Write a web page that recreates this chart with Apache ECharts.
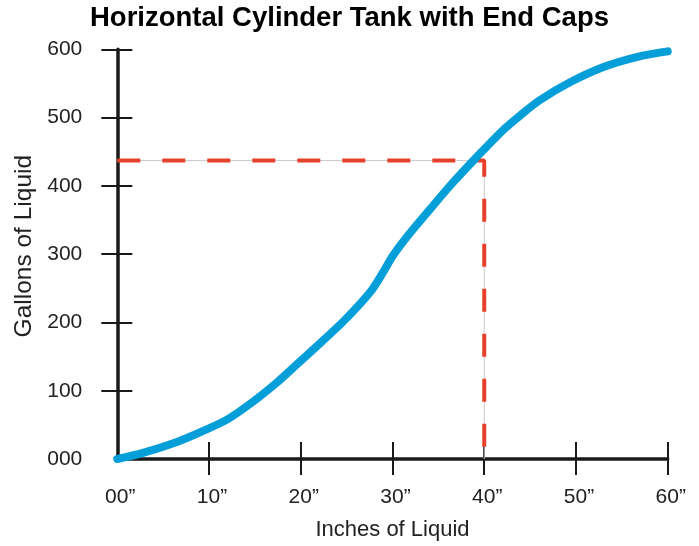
<!DOCTYPE html>
<html>
<head>
<meta charset="utf-8">
<script src="https://cdn.jsdelivr.net/npm/echarts@6/dist/echarts.min.js"></script>
<style>
html,body{margin:0;padding:0;background:#fff;}
#chart{width:699px;height:546px;}
</style>
</head>
<body>
<div id="chart"></div>
<script>
const titleText = 'Horizontal Cylinder Tank with End Caps';
const xName = 'Inches of Liquid';
const yName = 'Gallons of Liquid';

const xTicks = [0, 10, 20, 30, 40, 50, 60];
const yTicks = [0, 100, 200, 300, 400, 500, 600];

const inches  = [0, 2.8, 6.5, 9, 12, 14.8, 17.4, 19.2, 21, 24.6, 27.6, 29, 30, 31.6, 34.1, 36.6, 39.1, 42, 44, 46, 49.4, 53, 56.7, 60];
const gallons = [0, 9, 25, 39, 58, 84, 112, 134, 156, 201, 245, 274, 297, 326, 366, 405, 441, 481, 504, 525, 552, 574, 589, 597];

const guideInches  = [0, 40, 40];
const guideGallons = [437, 437, 0];

const curve = inches.map((x, i) => [x, gallons[i]]);
const guide = guideInches.map((x, i) => [x, guideGallons[i]]);

const labelFont = 'Liberation Sans, Arial, Helvetica, sans-serif';
const axisColor = '#1a1a1a';
const textColor = '#222';

const chart = echarts.init(document.getElementById('chart'), null, {renderer: 'canvas'});
chart.setOption({
  animation: false,
  backgroundColor: '#fff',
  title: {
    text: titleText,
    left: 'center',
    top: 4,
    padding: 0,
    textStyle: {fontFamily: labelFont, fontWeight: 'bold', fontSize: 27.5, color: '#000'}
  },
  grid: {left: 117.3, right: 31.3, top: 49.3, bottom: 83.7, containLabel: false},
  xAxis: [{
    type: 'value', min: 0, max: 60, position: 'bottom',
    name: xName, nameLocation: 'middle', nameGap: 60,
    nameTextStyle: {fontFamily: labelFont, fontSize: 22, color: textColor},
    axisLine: {show: true, onZero: false, lineStyle: {color: axisColor, width: 3.5}},
    axisTick: {show: true, inside: true, length: 17, customValues: xTicks.slice(1), lineStyle: {color: axisColor, width: 2}},
    axisLabel: {show: true, margin: 28, customValues: xTicks, fontFamily: labelFont, fontSize: 21, color: textColor,
      padding: [0, 0, 0, 6],
      formatter: v => String(v).padStart(2, '0') + '\u201d'},
    splitLine: {show: false}
  }, {
    type: 'value', min: 0, max: 60, position: 'bottom',
    axisLine: {show: false, onZero: false},
    axisTick: {show: true, inside: false, length: 16, customValues: xTicks.slice(1), lineStyle: {color: axisColor, width: 2}},
    axisLabel: {show: false},
    splitLine: {show: false}
  }],
  yAxis: [{
    type: 'value', min: 0, max: 600, position: 'left',
    name: yName, nameLocation: 'middle', nameGap: 81,
    nameTextStyle: {fontFamily: labelFont, fontSize: 24.5, color: textColor, padding: [0, 0, 0, 16]},
    axisLine: {show: true, onZero: false, lineStyle: {color: axisColor, width: 3.5}},
    axisTick: {show: true, inside: true, length: 15, customValues: yTicks.slice(1), lineStyle: {color: axisColor, width: 2}},
    axisLabel: {show: true, margin: 35, customValues: yTicks, fontFamily: labelFont, fontSize: 21, color: textColor,
      formatter: v => String(v).padStart(3, '0')},
    splitLine: {show: false}
  }, {
    type: 'value', min: 0, max: 600, position: 'left',
    axisLine: {show: false, onZero: false},
    axisTick: {show: true, inside: false, length: 16, customValues: yTicks.slice(1), lineStyle: {color: axisColor, width: 2}},
    axisLabel: {show: false},
    splitLine: {show: false}
  }],
  series: [{
    type: 'line', xAxisIndex: 0, yAxisIndex: 0, data: guide,
    showSymbol: false, silent: true, z: 1,
    lineStyle: {color: '#c8c8c8', width: 1}
  }, {
    type: 'line', xAxisIndex: 0, yAxisIndex: 0, data: guide,
    showSymbol: false, silent: true, z: 2,
    lineStyle: {color: '#e8412b', width: 4, type: [23, 22]}
  }, {
    type: 'line', xAxisIndex: 0, yAxisIndex: 0, data: curve,
    smooth: 0.3, showSymbol: false, silent: true, z: 3,
    lineStyle: {color: '#049fd9', width: 8, cap: 'round'}
  }]
});
</script>
</body>
</html>
